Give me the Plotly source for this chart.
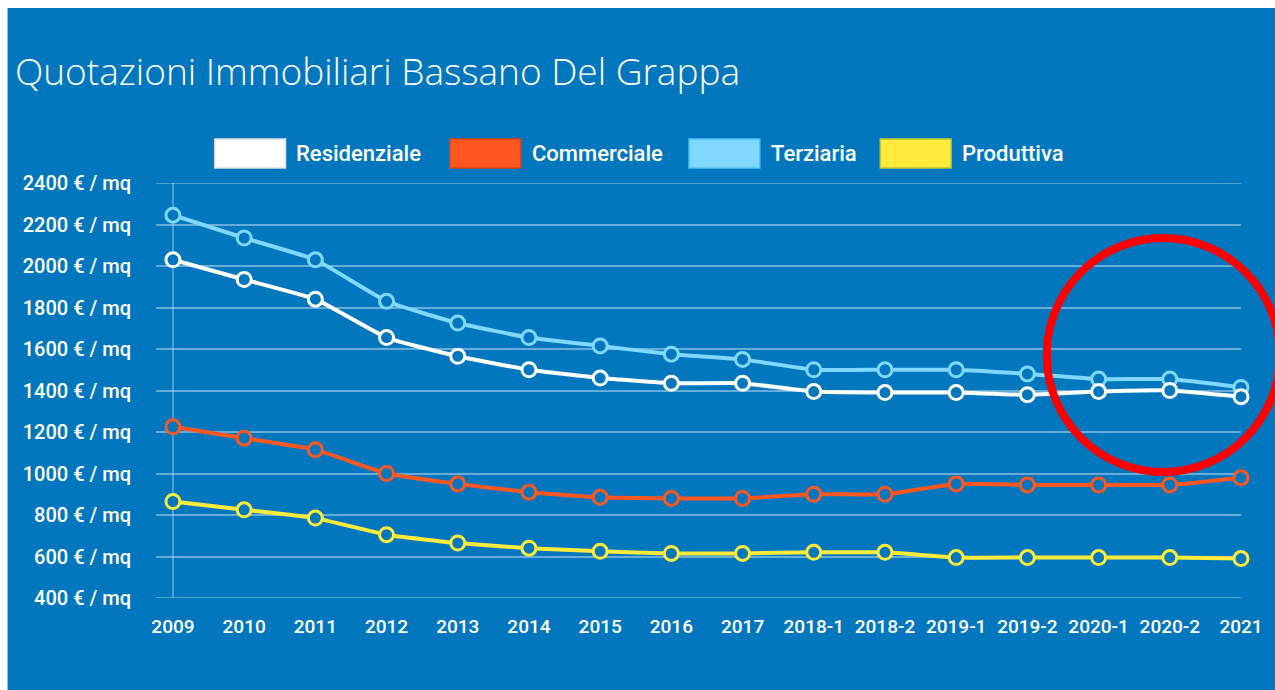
import plotly.graph_objects as go

# ---- data ----
periods = ["2009", "2010", "2011", "2012", "2013", "2014", "2015", "2016", "2017",
           "2018-1", "2018-2", "2019-1", "2019-2", "2020-1", "2020-2", "2021"]
residenziale = [2030, 1935, 1840, 1655, 1565, 1500, 1460, 1435, 1435,
                1395, 1390, 1390, 1380, 1395, 1400, 1370]
commerciale = [1225, 1170, 1115, 1000, 950, 910, 885, 880, 880,
               900, 900, 950, 945, 945, 945, 980]
terziaria = [2245, 2135, 2030, 1830, 1725, 1655, 1615, 1575, 1550,
             1500, 1500, 1500, 1480, 1455, 1455, 1415]
produttiva = [865, 825, 785, 705, 665, 640, 625, 615, 615,
              620, 620, 595, 595, 595, 595, 590]
series_names = ["Residenziale", "Commerciale", "Terziaria", "Produttiva"]
series_values = [residenziale, commerciale, terziaria, produttiva]
title_text = "Quotazioni Immobiliari Bassano Del Grappa"
y_suffix = " € / mq"
y_min, y_max = 400, 2400

# ---- style ----
BG = "#0277BD"
GRID = "rgba(255,255,255,0.4)"
colors = {"Residenziale": "#FFFFFF", "Commerciale": "#FF5722",
          "Terziaria": "#80D8FF", "Produttiva": "#FFEB3B"}
edges = {"Residenziale": "#E0E0E0", "Commerciale": "#D84315",
         "Terziaria": "#4FC3F7", "Produttiva": "#C0CA33"}
W_FIG, H_FIG = 1275, 690
L, R, T, B = 156, 30, 183, 92
PW = W_FIG - L - R
PH = H_FIG - T - B


def px_x(px):
    return (px - L) / PW


def px_y(py):
    return (H_FIG - B - py) / PH


fig = go.Figure()
draw_order = ["Produttiva", "Commerciale", "Terziaria", "Residenziale"]
for name in draw_order:
    vals = series_values[series_names.index(name)]
    fig.add_trace(go.Scatter(
        x=list(range(len(periods))), y=vals, name=name, mode="lines+markers",
        line=dict(color=colors[name], width=4, shape="spline", smoothing=0.4),
        marker=dict(size=14, color=BG, line=dict(color=colors[name], width=3)),
        cliponaxis=False, showlegend=False,
    ))

shapes = []
annotations = []
# white strips (screenshot edge)
shapes.append(dict(type="rect", xref="paper", yref="paper",
                   x0=px_x(-5), x1=px_x(7), y0=px_y(700), y1=px_y(-5),
                   fillcolor="white", line=dict(width=0), layer="above"))
shapes.append(dict(type="rect", xref="paper", yref="paper",
                   x0=px_x(-5), x1=px_x(1285), y0=px_y(8), y1=px_y(-5),
                   fillcolor="white", line=dict(width=0), layer="above"))
# vertical axis line at first category
shapes.append(dict(type="line", xref="x", yref="paper", x0=0, x1=0, y0=0, y1=1,
                   line=dict(color=GRID, width=1.5), layer="below"))
# gridlines at the range edges
for yv in (y_min, y_max):
    shapes.append(dict(type="line", xref="paper", yref="y", x0=0, x1=1, y0=yv, y1=yv,
                       line=dict(color=GRID, width=1.5), layer="below"))

# manual legend
box_left = [215, 451, 691, 883]
for i, name in enumerate(series_names):
    x0 = box_left[i]
    shapes.append(dict(type="rect", xref="paper", yref="paper",
                       x0=px_x(x0), x1=px_x(x0 + 71), y0=px_y(168), y1=px_y(139),
                       fillcolor=colors[name], line=dict(color=edges[name], width=1.5)))
    annotations.append(dict(text=name, xref="paper", yref="paper",
                            x=px_x(x0 + 80), y=px_y(153), xanchor="left", yanchor="middle",
                            showarrow=False,
                            font=dict(family="Roboto", size=22, color="white", weight=500)))

# red highlight circle
shapes.append(dict(type="circle", xref="paper", yref="paper",
                   x0=px_x(1050), x1=px_x(1284), y0=px_y(472), y1=px_y(238),
                   line=dict(color="#FF0000", width=8), layer="above"))

fig.update_layout(
    width=W_FIG, height=H_FIG,
    margin=dict(l=L, r=R, t=T, b=B, pad=0),
    paper_bgcolor=BG, plot_bgcolor=BG,
    title=dict(text=title_text, x=15 / W_FIG, xref="container", xanchor="left",
               y=1 - 72 / H_FIG, yref="container", yanchor="middle",
               font=dict(family="Open Sans", size=37, color="white", weight=300)),
    shapes=shapes, annotations=annotations,
    showlegend=False,
    xaxis=dict(range=[-0.238, len(periods) - 1], tickmode="array",
               tickvals=list(range(len(periods))), ticktext=periods,
               showgrid=False, zeroline=False, showline=False,
               ticks="", ticklabelstandoff=15,
               tickfont=dict(family="Roboto", size=19, color="white", weight=500)),
    yaxis=dict(range=[y_min, y_max], tick0=y_min, dtick=200, ticksuffix=y_suffix,
               showgrid=True, gridcolor=GRID, gridwidth=1.5,
               zeroline=False, showline=False, ticks="", ticklabelstandoff=24,
               tickfont=dict(family="Roboto", size=20, color="white", weight=500)),
)

fig.write_html("out.html")
